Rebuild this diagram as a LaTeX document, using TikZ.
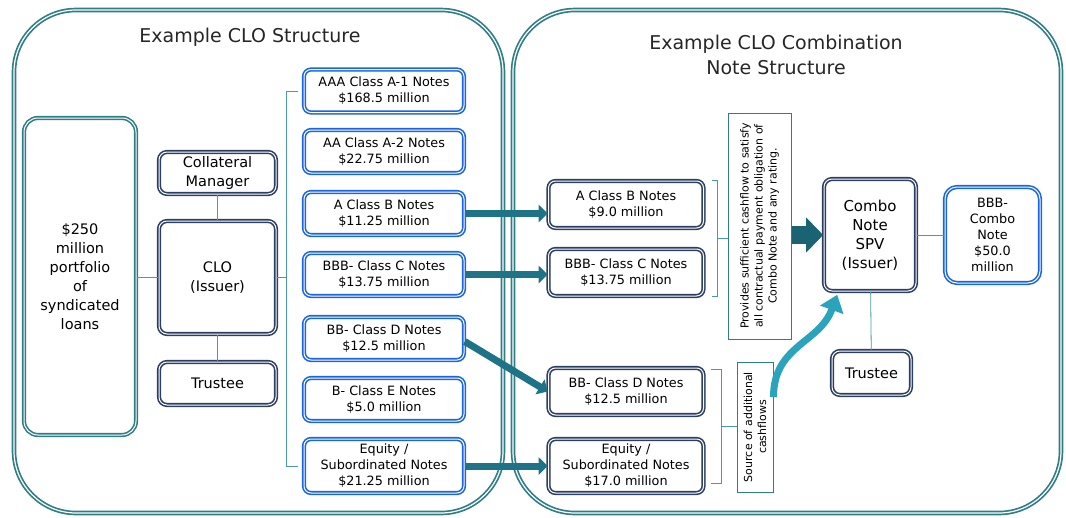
\documentclass[tikz,border=0pt]{standalone}
\usepackage{fontspec}
\setmainfont{DejaVu Sans}
\usepackage{tikz}
\usetikzlibrary{arrows.meta,calc}
\definecolor{frameteal}{HTML}{2F7D87}
\definecolor{noteblue}{HTML}{1A66E0}
\definecolor{navyline}{HTML}{2C3E63}
\definecolor{linkteal}{HTML}{4A9AA3}
\definecolor{flowteal}{HTML}{1E7486}
\definecolor{curveteal}{HTML}{2BA3BD}

\begin{document}
\begin{tikzpicture}[x=1pt,y=-1pt,
  frame/.style={draw=frameteal,line width=1.7pt,double=white,double distance=1.2pt,rounded corners=62pt,inner sep=0pt},
  title/.style={font=\fontsize{19}{25}\selectfont,align=center,text=black!85},
  note/.style={draw=noteblue,line width=1.6pt,double=white,double distance=1pt,rounded corners=7pt,align=center,
    minimum width=160pt,minimum height=43pt,inner sep=0pt,font=\fontsize{12.8}{16}\selectfont},
  combonote/.style={note,draw=navyline,minimum width=155pt,minimum height=47pt},
  party/.style={draw=navyline,line width=1.6pt,double=white,double distance=1pt,rounded corners=8pt,align=center,
    inner sep=0pt,font=\fontsize{14.5}{19}\selectfont},
  pool/.style={draw=frameteal,line width=1.6pt,double=white,double distance=1pt,rounded corners=14pt,align=center,
    inner sep=0pt,font=\fontsize{14.5}{19}\selectfont},
  side/.style={draw=frameteal,line width=1pt,rotate=90,align=center,inner sep=0pt,font=\fontsize{11}{14}\selectfont},
  link/.style={draw=linkteal,line width=0.8pt},
  flow/.style={draw=flowteal,line width=7pt,-{Triangle[length=9pt,width=17pt]}},
  fat/.style={draw=flowteal!85!black,line width=18pt,-{Triangle[length=17pt,width=34pt]}},
  curvy/.style={draw=curveteal,line width=7pt,-{Triangle[length=16pt,width=24pt]}}]
\useasboundingbox (0,0) rectangle (1066,517);

\node[frame,minimum width=489pt,minimum height=503pt] (clobox) at (258.5,261.5) {};
\node[frame,minimum width=548pt,minimum height=503pt] (combobox) at (787,261.5) {};
\node[title] (t1) at (250,37) {Example CLO Structure};
\node[title] (t2) at (776,55) {Example CLO Combination\\Note Structure};

\node[pool,minimum width=112pt,minimum height=317pt] (loans) at (80,276.5) {\$250\\million\\portfolio\\of\\syndicated\\loans};
\node[party,minimum width=117pt,minimum height=42pt] (manager) at (217.5,173) {Collateral\\Manager};
\node[party,minimum width=117pt,minimum height=113pt] (clo) at (217.5,277.5) {CLO\\(Issuer)};
\node[party,minimum width=117pt,minimum height=43pt] (trustee) at (217.5,383.5) {Trustee};

\node[note] (aaa) at (384,91) {AAA Class A-1 Notes\\\$168.5 million};
\node[note] (aa) at (384,151.5) {AA Class A-2 Notes\\\$22.75 million};
\node[note] (classb) at (384,213.5) {A Class B Notes\\\$11.25 million};
\node[note] (classc) at (384,274.5) {BBB- Class C Notes\\\$13.75 million};
\node[note] (classd) at (384,338.5) {BB- Class D Notes\\\$12.5 million};
\node[note] (classe) at (384,399.5) {B- Class E Notes\\\$5.0 million};
\node[note,minimum height=54pt] (equity) at (384,466) {Equity /\\Subordinated Notes\\\$21.25 million};

\node[combonote] (comb) at (626,204.5) {A Class B Notes\\\$9.0 million};
\node[combonote] (combc) at (626,272.5) {BBB- Class C Notes\\\$13.75 million};
\node[combonote] (combd) at (626,391.5) {BB- Class D Notes\\\$12.5 million};
\node[combonote,minimum height=54pt] (combe) at (626,466) {Equity /\\Subordinated Notes\\\$17.0 million};

\node[side,minimum width=226pt,minimum height=63pt] (cash) at (759.5,226) {Provides sufficient cashflow to satisfy\\all contractual payment obligation of\\Combo Note and any rating.};
\node[side,minimum width=130pt,minimum height=36pt] (extra) at (755,427) {Source of additional\\cashflows};

\node[party,minimum width=92pt,minimum height=112pt,font=\fontsize{15}{19}\selectfont] (spv) at (870,235) {Combo\\Note\\SPV\\(Issuer)};
\node[note,minimum width=95pt,minimum height=96pt,rounded corners=12pt,font=\fontsize{12.8}{16.2}\selectfont] (combo) at (992.5,235) {BBB-\\Combo\\Note\\\$50.0\\million};
\node[party,minimum width=79pt,minimum height=44pt] (spvtrustee) at (871.5,373) {Trustee};

\coordinate (brk) at ($(clo.east)+(10,0)$);
\draw[link] (manager) -- (clo);
\draw[link] (clo) -- (trustee);
\draw[link] (loans.east |- clo.west) -- (clo.west);
\draw[link] (clo.east) -- (brk);
\draw[link] ([xshift=-5pt]aaa.west) -| (brk) |- ([xshift=-5pt]equity.west);

\coordinate (topmid) at ($([xshift=13pt]comb.north east)!.5!([xshift=13pt]combc.south east)$);
\draw[link] ([xshift=8pt]comb.north east) -- ([xshift=13pt]comb.north east) -- ([xshift=13pt]combc.south east) -- ([xshift=8pt]combc.south east);
\draw[link] (topmid) -- (topmid -| cash.north);
\coordinate (lowmid) at ($([xshift=17pt,yshift=-2pt]combd.north east)!.5!([xshift=17pt,yshift=10pt]combe.south east)$);
\draw[link] ([xshift=7pt,yshift=-2pt]combd.north east) -- ([xshift=17pt,yshift=-2pt]combd.north east) -- ([xshift=17pt,yshift=10pt]combe.south east) -- ([xshift=7pt,yshift=10pt]combe.south east);
\draw[link] (lowmid) -- (lowmid -| extra.north);

\draw[link] (spv) -- (combo);
\draw[link] (spv) -- (spvtrustee);

\draw[flow] (classb.east) -- (classb.east -| comb.west);
\draw[flow] (classc.east) -- (classc.east -| combc.west);
\draw[flow] ([yshift=-3pt]classd.east) -- (combd.west);
\draw[flow] (equity.east) -- (equity.east -| combe.west);

\draw[fat] (cash.south |- spv.west) -- (spv.west);
\draw[curvy] ([yshift=30pt]extra.south) to[out=90,in=-110,looseness=1.1] ([xshift=14pt,yshift=-3pt]spv.south west);
\end{tikzpicture}
\end{document}
